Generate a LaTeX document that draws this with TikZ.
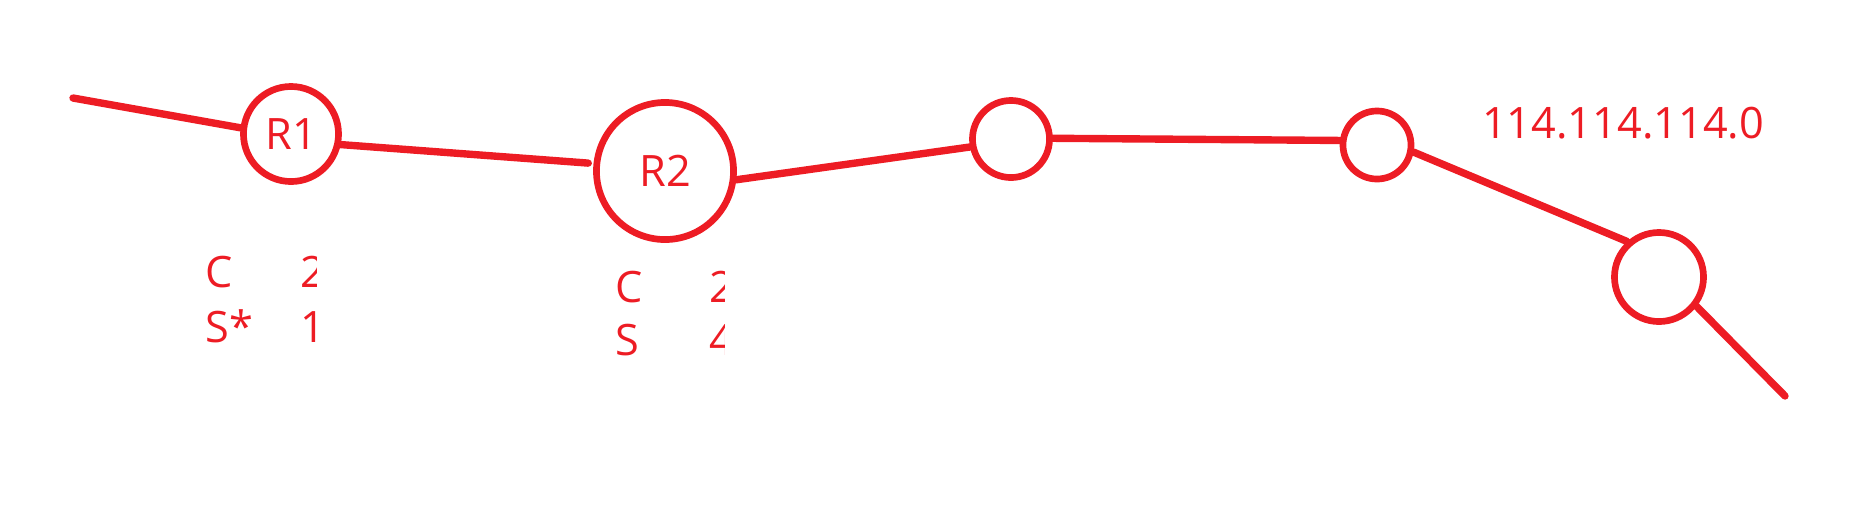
\documentclass[tikz,border=0pt]{standalone}
\usepackage{fontspec}
\setmainfont{Open Sans}
\definecolor{rd}{RGB}{237,28,36}
\tikzset{
    router/.style = {circle,
                    fill=white,
                    draw=rd,
                    text=rd,
                    line width=1.9pt,
                    inner sep=0pt,
                    font=\fontsize{12.3}{14}\selectfont},
    link/.style =   {draw=rd,
                    line width=2.1pt,
                    line cap=round},
    lbl/.style =    {text=rd,
                    inner sep=0pt,
                    anchor=base west,
                    font=\fontsize{12.3}{14}\selectfont}}

\begin{document}
\begin{tikzpicture}[x=0.01cm,y=-0.01cm]
            \useasboundingbox (0,0) rectangle (1863,511);

            \node[router, minimum size=0.95cm]  (R1) at (291,134)    {R1};
            \node[router, minimum size=1.37cm]  (R2) at (665,171)    {R2};
            \node[router, minimum size=0.77cm]  (N3) at (1011,139)   {};
            \node[router, minimum size=0.68cm]  (N4) at (1377,145)   {};
            \node[router, minimum size=0.89cm]  (N5) at (1659,277)   {};

            \coordinate (in)  at (73,98);
            \coordinate (out) at (1785,396);

            \draw[link]  (in) -- (R1.173);
            \draw[link, shorten >=1.5pt]  (R1.-12) -- (R2.174);
            \draw[link]  (R2.-7) -- (N3.191);
            \draw[link]  (N3.1) -- (N4.173);
            \draw[link]  (N4.-11) -- (N5.132);
            \draw[link]  (N5.-38) -- (out);

            \node[lbl, anchor=base] (net) at (1623,138) {114.114.114.0};

            \begin{scope}
                \clip (195,240) rectangle (316,360);
                \node[lbl]  (C1)  at (205,287)  {C};
                \node[lbl]  (C1v) at (300,287)  {2};
                \node[lbl]  (S1)  at (205,342)  {S*};
                \node[lbl]  (S1v) at (300,342)  {1};
            \end{scope}
            \begin{scope}
                \clip (605,250) rectangle (724,370);
                \node[lbl]  (C2)  at (615,302)  {C};
                \node[lbl]  (C2v) at (709,302)  {2};
                \node[lbl]  (S2)  at (615,355)  {S};
                \node[lbl]  (S2v) at (709,355)  {4};
            \end{scope}
        \end{tikzpicture}
\end{document}
